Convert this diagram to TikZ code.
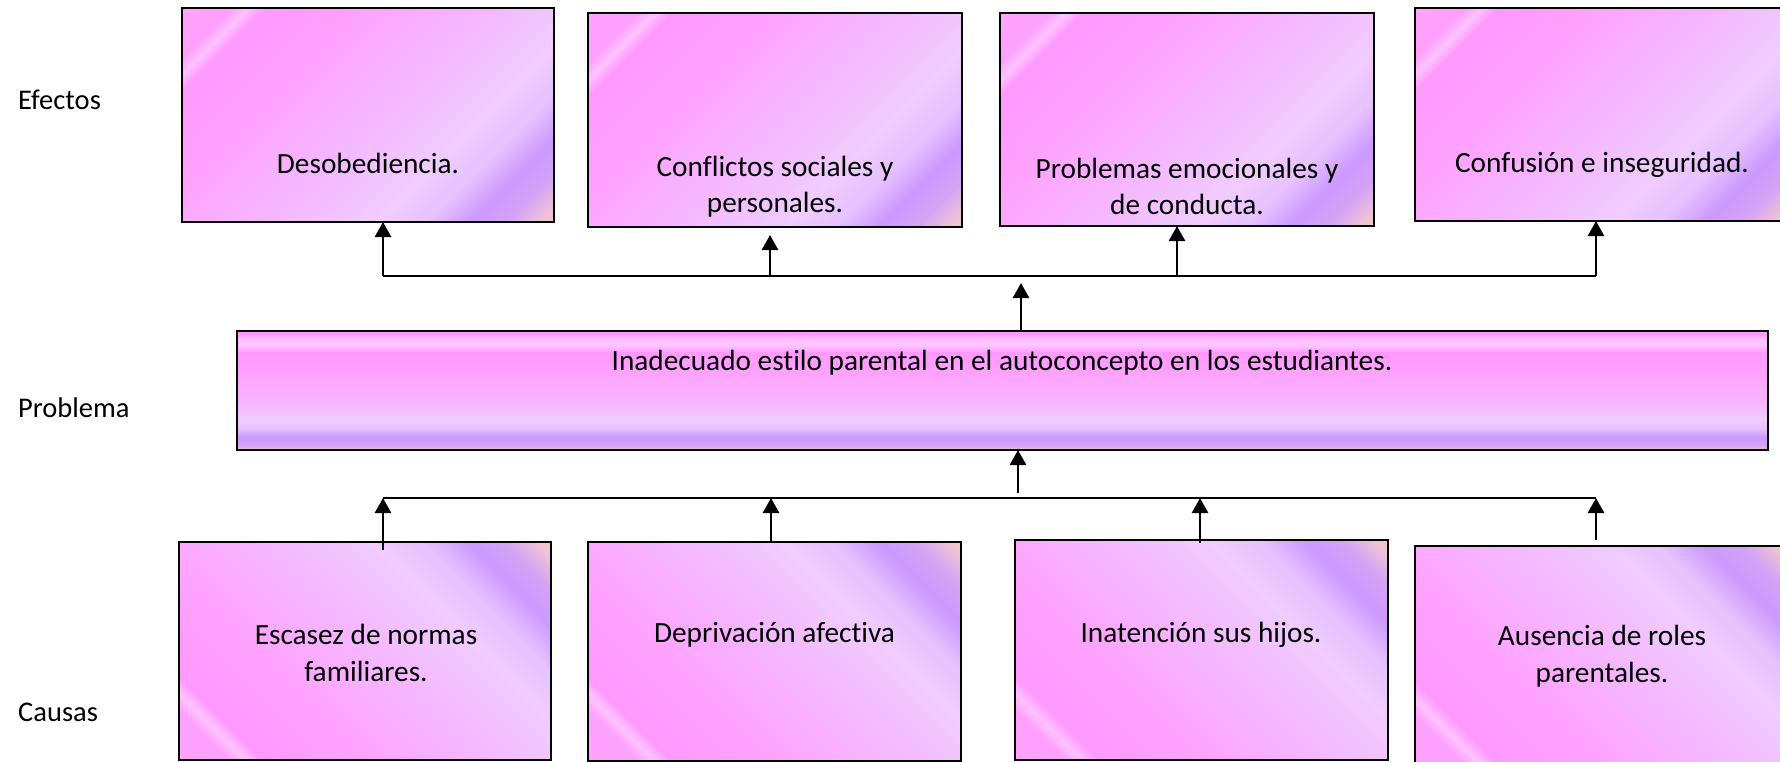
\documentclass[tikz,border=0pt]{standalone}
\usepackage{fontspec}
\setmainfont[Ligatures=NoCommon]{Carlito}
\usetikzlibrary{arrows.meta}
\definecolor{cA}{HTML}{FFA4FF}
\definecolor{cB}{HTML}{FFA0FF}
\definecolor{cStreak}{HTML}{FFC4FF}
\definecolor{pk}{HTML}{FF99FF}
\definecolor{pkB}{HTML}{FFA2FF}
\definecolor{midc}{HTML}{F5B6FF}
\definecolor{lav}{HTML}{F0CCFF}
\definecolor{lavB}{HTML}{E6C2FF}
\definecolor{pur}{HTML}{CC99FF}
\definecolor{purB}{HTML}{D4A4F4}
\definecolor{peachA}{HTML}{EEC0D8}
\definecolor{peachB}{HTML}{F5C8C0}
\pgfdeclarehorizontalshading{boxshade}{100bp}{color(0bp)=(cA); color(14.6bp)=(cA); color(20.5bp)=(cB); color(22.5bp)=(cStreak); color(24.5bp)=(pk); color(36bp)=(pkB); color(50bp)=(midc); color(64bp)=(lav); color(70bp)=(lavB); color(75.5bp)=(pur); color(80bp)=(purB); color(83.5bp)=(peachA); color(85.4bp)=(peachB); color(100bp)=(peachB)}
\pgfdeclareverticalshading{probshade}{100bp}{color(0bp)=(peachA); color(25bp)=(peachA); color(27bp)=(purB); color(30.5bp)=(pur); color(34bp)=(lavB); color(38bp)=(lav); color(45bp)=(midc); color(58bp)=(pkB); color(66bp)=(pk); color(69bp)=(cStreak); color(71.5bp)=(cStreak); color(73.5bp)=(pk); color(75bp)=(pk); color(100bp)=(pk)}
\begin{document}
\begin{tikzpicture}[x=1pt,y=-1pt,
  basebox/.style={draw=black, line width=2.5pt, shade, shading=boxshade, inner sep=0pt, outer sep=0pt},
  effbox/.style={basebox, shading angle=-45},
  causebox/.style={basebox, shading angle=45},
  probbox/.style={draw=black, line width=2.5pt, shade, shading=probshade, inner sep=0pt, outer sep=0pt},
  txt/.style={font=\fontsize{29.3}{36.5}\selectfont, align=center, inner sep=0pt},
  lbl/.style={font=\fontsize{28.5}{34}\selectfont, anchor=west, inner sep=0pt},
  conn/.style={line width=2.6pt},
  arr/.style={line width=2.6pt, -{Triangle[length=15pt,width=16pt]}}
]
\fill[white] (0,0) rectangle (1780,762);
\clip (0,0) rectangle (1780,762);

% labels
\node[lbl] (lE) at (18,100) {Efectos};
\node[lbl] (lP) at (18,408) {Problema};
\node[lbl] (lC) at (18,712) {Causas};

% effect boxes
\node[effbox, minimum width=372pt, minimum height=214pt] (e1) at (368,115) {};
\node[effbox, minimum width=374pt, minimum height=214pt] (e2) at (775,120) {};
\node[effbox, minimum width=374pt, minimum height=213pt] (e3) at (1187,119.5) {};
\node[effbox, minimum width=374pt, minimum height=213pt] (e4) at (1602,114.5) {};
\node[txt] (e1t) at (368,163) {Desobediencia.};
\node[txt] (e2t) at (775,186.5) {Conflictos sociales y\\personales.};
\node[txt] (e3t) at (1187,186.5) {Problemas emocionales y\\de conducta.};
\node[txt] (e4t) at (1602,165) {Confusión e inseguridad.};

% problem box
\node[probbox, minimum width=1531pt, minimum height=119pt] (p) at (1002.5,390.5) {};
\node[txt] (pt) at (1002,363) {Inadecuado estilo parental en el autoconcepto en los estudiantes.};

% cause boxes
\node[causebox, minimum width=372pt, minimum height=218pt] (c1) at (365,651) {};
\node[causebox, minimum width=373pt, minimum height=219pt] (c2) at (774.5,651.5) {};
\node[causebox, minimum width=373pt, minimum height=220pt] (c3) at (1201.5,650) {};
\node[causebox, minimum width=374pt, minimum height=220pt] (c4) at (1602,656) {};
\node[txt] (c1t) at (366,653) {Escasez de normas\\familiares.};
\node[txt] (c2t) at (774.5,635) {Deprivación afectiva};
\node[txt] (c3t) at (1201,635) {Inatención sus hijos.};
\node[txt] (c4t) at (1602,656) {Ausencia de roles\\parentales.};

% top connectors
\coordinate (ta1) at (383,276);
\coordinate (ta2) at (770,276);
\coordinate (ta3) at (1177,276);
\coordinate (ta4) at (1596,276);
\coordinate (tip2) at (770,235);
\coordinate (tc) at (1021,283);
\draw[conn] (ta1) -- (ta4);
\draw[arr] (ta1) -- (ta1 |- e1.south);
\draw[arr] (ta2) -- (tip2);
\draw[arr] (ta3) -- (ta3 |- e3.south);
\draw[arr] (ta4) -- (ta4 |- e4.south);
\draw[arr] (tc |- p.north) -- (tc);

% bottom connectors
\coordinate (ba1) at (383,498);
\coordinate (ba2) at (771,498);
\coordinate (ba3) at (1200,498);
\coordinate (ba4) at (1596,498);
\coordinate (cs1) at (383,550);
\coordinate (cs3) at (1200,543);
\coordinate (cs4) at (1596,540);
\coordinate (bc) at (1018,493);
\draw[conn] (ba1) -- (ba4);
\draw[arr] (cs1) -- (ba1);
\draw[arr] (ba2 |- c2.north) -- (ba2);
\draw[arr] (cs3) -- (ba3);
\draw[arr] (cs4) -- (ba4);
\draw[arr] (bc) -- (bc |- p.south);
\end{tikzpicture}
\end{document}
